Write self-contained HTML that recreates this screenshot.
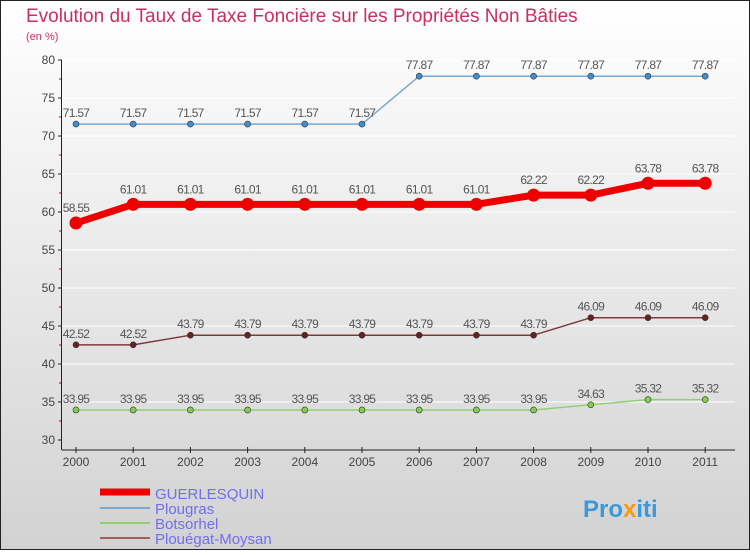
<!DOCTYPE html>
<html><head><meta charset="utf-8"><style>
body{margin:0;width:750px;height:550px;overflow:hidden;font-family:"Liberation Sans",sans-serif}
</style></head><body>
<svg id="c" width="750" height="550" xmlns="http://www.w3.org/2000/svg">
<defs><linearGradient id="bg" x1="0" y1="0" x2="0" y2="1"><stop offset="0" stop-color="#ffffff"/><stop offset="1" stop-color="#d2d2d2"/></linearGradient></defs>
<rect x="0.5" y="0.5" width="749" height="549" fill="url(#bg)" stroke="#222"/>
<text x="26" y="22" font-size="19" fill="#c8305e">Evolution du Taux de Taxe Foncière sur les Propriétés Non Bâties</text>
<text x="26" y="40" font-size="11" fill="#c8305e">(en %)</text>
<g id="axes"></g><g id="series"></g>
<g>
<line x1="100" y1="492" x2="150" y2="492" stroke="#e00" stroke-width="7"/>
<text x="155" y="499" font-size="15" fill="#6f6ff0">GUERLESQUIN</text>
<line x1="100" y1="508" x2="150" y2="508" stroke="#79a9cf" stroke-width="2"/>
<text x="155" y="514" font-size="15" fill="#6f6ff0">Plougras</text>
<line x1="100" y1="523" x2="150" y2="523" stroke="#90d070" stroke-width="2"/>
<text x="155" y="529" font-size="15" fill="#6f6ff0">Botsorhel</text>
<line x1="100" y1="538" x2="150" y2="538" stroke="#a06060" stroke-width="2"/>
<text x="155" y="544" font-size="15" fill="#6f6ff0">Plouégat-Moysan</text>
</g>
<text x="583" y="517" font-size="24" font-weight="bold" fill="#3a9ad9">Pro<tspan fill="#f29a1a">x</tspan>iti</text>
</svg>
<script>
const years=["2000","2001","2002","2003","2004","2005","2006","2007","2008","2009","2010","2011"];
const yTicks=[30,35,40,45,50,55,60,65,70,75,80];
const guerlesquin=[58.55,61.01,61.01,61.01,61.01,61.01,61.01,61.01,62.22,62.22,63.78,63.78];
const plougras=[71.57,71.57,71.57,71.57,71.57,71.57,77.87,77.87,77.87,77.87,77.87,77.87];
const botsorhel=[33.95,33.95,33.95,33.95,33.95,33.95,33.95,33.95,33.95,34.63,35.32,35.32];
const plouegat=[42.52,42.52,43.79,43.79,43.79,43.79,43.79,43.79,43.79,46.09,46.09,46.09];
const NS="http://www.w3.org/2000/svg";
const xS=i=>76+i*57.2, yS=v=>440-(v-30)*7.6;
function mk(p,t,a){const e=document.createElementNS(NS,t);for(const k in a)e.setAttribute(k,a[k]);p.appendChild(e);return e;}
const ax=document.getElementById('axes');
yTicks.forEach(v=>{
 if(v>30){const g=mk(ax,'line',{x1:62,x2:735,y1:yS(v),y2:yS(v),stroke:'#fff','stroke-width':1});
 
 }
 mk(ax,'line',{x1:58,x2:62,y1:yS(v),y2:yS(v),stroke:'#222'});
 if(v<80)mk(ax,'line',{x1:59,x2:62,y1:yS(v+2.5),y2:yS(v+2.5),stroke:'#d00'});
 const t=mk(ax,'text',{x:55,y:yS(v)+4,'text-anchor':'end','font-size':12,fill:'#444'});t.textContent=v;
 
 
});
mk(ax,'line',{x1:61.5,x2:61.5,y1:yS(80),y2:450,stroke:'#222'});
mk(ax,'line',{x1:62,x2:735,y1:450,y2:450,stroke:'#222'});
years.forEach((y,i)=>{
 mk(ax,'line',{x1:xS(i),x2:xS(i),y1:447,y2:453,stroke:'#222'});
 const t=mk(ax,'text',{x:xS(i),y:466,'text-anchor':'middle','font-size':12,fill:'#444'});t.textContent=y;
 
 
});
const sg=document.getElementById('series');
function draw(vals,color,dot,w,r,name){
 const g=mk(sg,'g',{});
 
 
 const pl=mk(g,'polyline',{points:vals.map((v,i)=>xS(i)+','+yS(v)).join(' '),fill:'none',stroke:color,'stroke-width':w,'stroke-linejoin':'round'});
 
 
 vals.forEach((v,i)=>{
  const c=mk(g,'circle',{cx:xS(i),cy:yS(v),r:r,fill:dot,stroke:'#333','stroke-width':r>4?0:0.6});
  
  
  const t=mk(g,'text',{x:xS(i),y:yS(v)-(r>4?11:7),'text-anchor':'middle','font-size':12,fill:'#555','letter-spacing':'-0.7'});
  t.textContent=v.toFixed(2);
  
  
 });
}
draw(plougras,'#79a9cf','#3f8fd0',1.5,3,'plougras');
draw(plouegat,'#7a3b3b','#6a2020',1.5,3,'plouegat-moysan');
draw(botsorhel,'#90d070','#80d050',1.5,3,'botsorhel');
draw(guerlesquin,'#ee0000','#ee0000',7,6.5,'guerlesquin');
</script>
</body></html>
